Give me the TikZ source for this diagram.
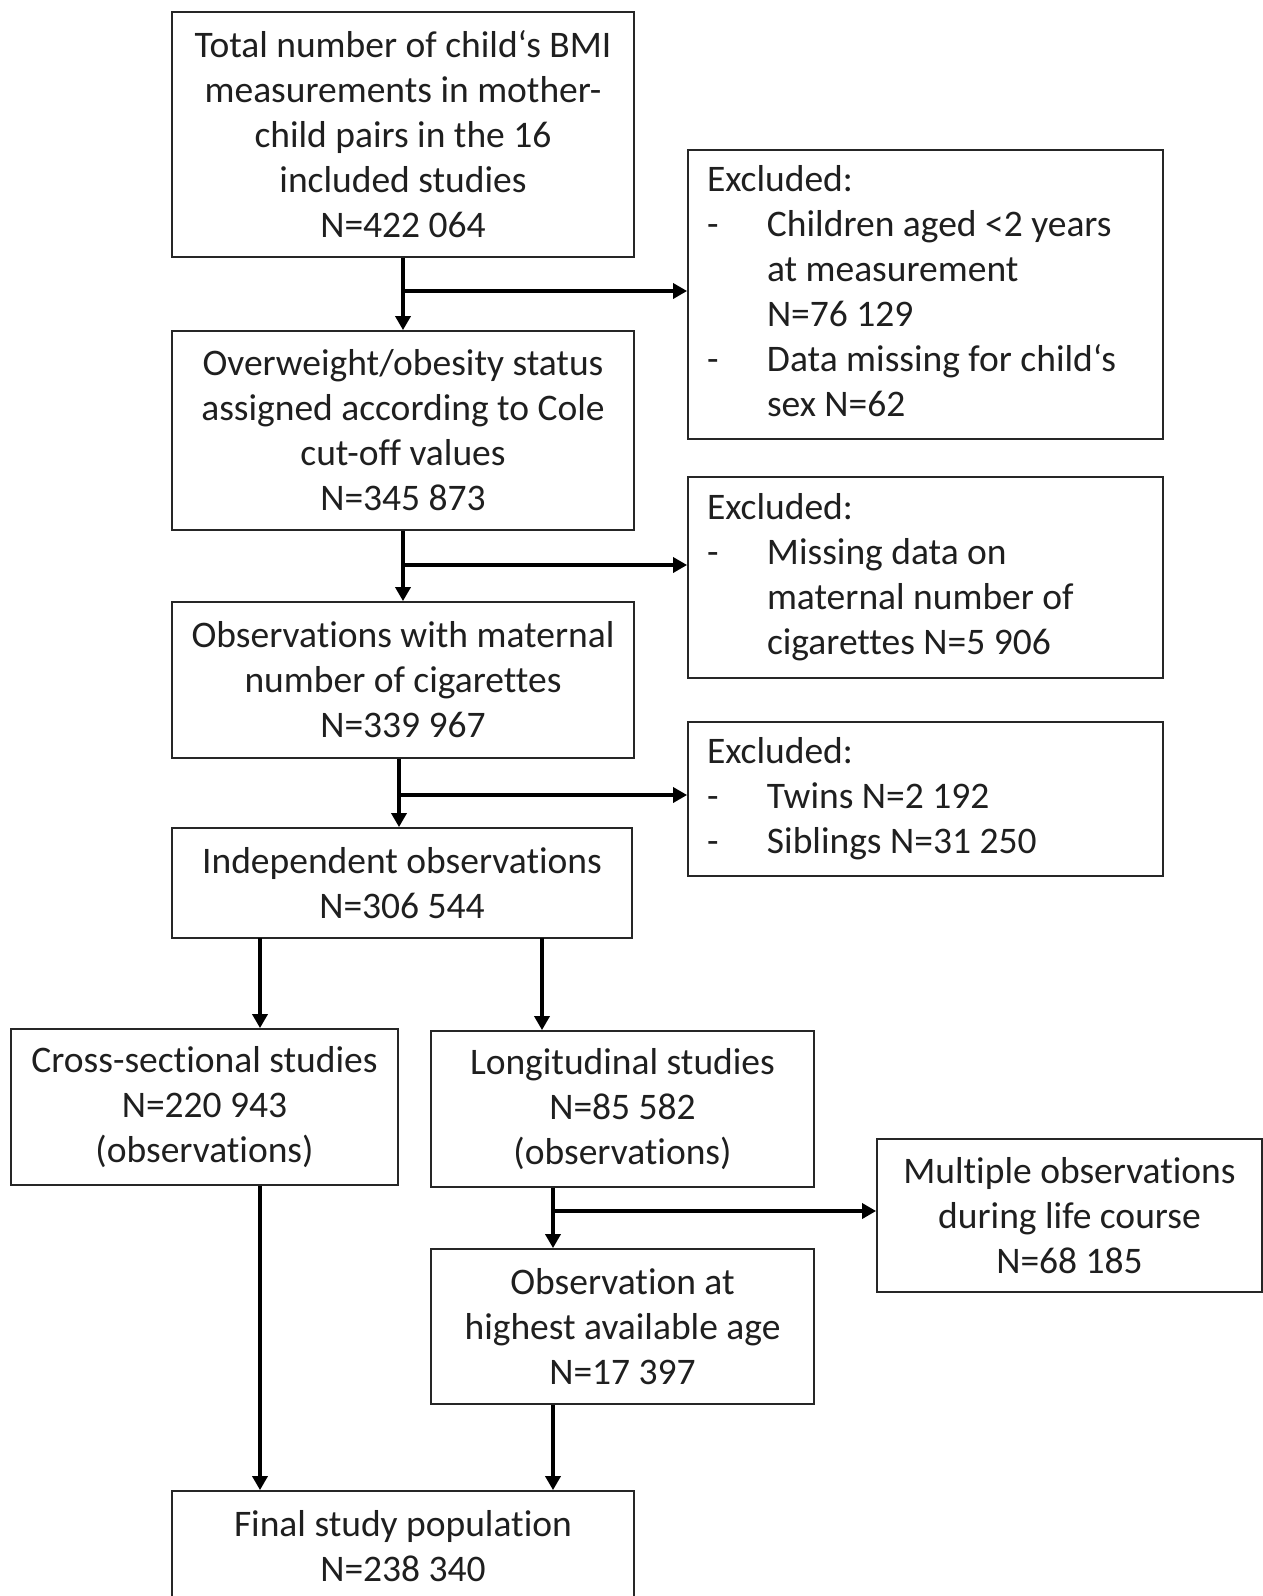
\documentclass[tikz,border=0pt]{standalone}
\usepackage{fontspec}
\setmainfont{Carlito}[Ligatures={NoCommon}]
\usetikzlibrary{arrows.meta}
\begin{document}
\begin{tikzpicture}[x=1pt,y=-1pt,
  box/.style={draw=black!85,line width=1.8pt,rectangle,inner sep=0pt,align=center,
    font=\fontsize{37.5}{45}\selectfont,text=black!88},
  exbox/.style={draw=black!85,line width=1.8pt,rectangle,inner xsep=19pt,inner ysep=0pt,
    font=\fontsize{37.5}{45}\selectfont,text=black!88},
  arr/.style={line width=3.4pt,-{Triangle[length=14pt,width=15pt]}}]
\useasboundingbox (0,0) rectangle (1263,1596);
\clip (0,0) rectangle (1263,1596);
\fill[white] (0,0) rectangle (1263,1596);
\newcommand{\dsh}{\makebox[60pt][l]{-}}
\newcommand{\ind}{\hspace*{60pt}}
\newcommand{\exlines}[1]{\makebox[437pt][l]{\begin{tabular}{@{}l@{}}#1\end{tabular}}}
\node[box,minimum width=462pt,minimum height=245pt] (b1) at (403,134.5)
 {Total number of child‘s BMI\\measurements in mother-\\child pairs in the 16\\included studies\\N=422 064};
\node[exbox,minimum width=475pt,minimum height=289pt] (e1) at (925.5,294.5)
 {\exlines{Excluded:\\\dsh Children aged <2 years\\\ind at measurement\\\ind N=76 129\\\dsh Data missing for child‘s\\\ind sex N=62}};
\node[box,minimum width=462pt,minimum height=199pt] (b2) at (403,430.5)
 {Overweight/obesity status\\assigned according to Cole\\cut-off values\\N=345 873};
\node[exbox,minimum width=475pt,minimum height=201pt] (e2) at (925.5,577.5)
 {\exlines{Excluded:\\\dsh Missing data on\\\ind maternal number of\\\ind cigarettes N=5 906}};
\node[box,minimum width=462pt,minimum height=156pt] (b3) at (403,680)
 {Observations with maternal\\number of cigarettes\\N=339 967};
\node[exbox,minimum width=475pt,minimum height=154pt] (e3) at (925.5,799)
 {\exlines{Excluded:\\\dsh Twins N=2 192\\\dsh Siblings N=31 250}};
\node[box,minimum width=460pt,minimum height=110pt] (b4) at (402,883)
 {Independent observations\\N=306 544};
\node[box,minimum width=387pt,minimum height=156pt] (cs) at (204.5,1107)
 {Cross-sectional studies\\N=220 943\\(observations)};
\node[box,minimum width=383pt,minimum height=156pt] (lg) at (622.5,1109)
 {Longitudinal studies\\N=85 582\\(observations)};
\node[box,minimum width=385pt,minimum height=153pt] (mo) at (1069.5,1215.5)
 {Multiple observations\\during life course\\N=68 185};
\node[box,minimum width=383pt,minimum height=155pt] (oh) at (622.5,1326.5)
 {Observation at\\highest available age\\N=17 397};
\node[box,minimum width=462pt,minimum height=110pt] (fp) at (403,1546)
 {Final study population\\N=238 340};
% connectors
\coordinate (j1) at (403,291);
\coordinate (j2) at (403,565);
\coordinate (j3) at (399,795);
\coordinate (j4) at (553,1211);
\draw[arr] (b1.south) -- (b2.north);
\draw[arr] (j1) -- (j1 -| e1.west);
\draw[arr] (b2.south) -- (b3.north);
\draw[arr] (j2) -- (j2 -| e2.west);
\draw[arr] (j3 |- b3.south) -- (j3 |- b4.north);
\draw[arr] (j3) -- (j3 -| e3.west);
\draw[arr] (260,938) coordinate (s1) -- (s1 |- cs.north);
\draw[arr] (542,938) coordinate (s2) -- (s2 |- lg.north);
\draw[arr] (j4 |- lg.south) -- (j4 |- oh.north);
\draw[arr] (j4) -- (j4 -| mo.west);
\draw[arr] (s1 |- cs.south) -- (s1 |- fp.north);
\draw[arr] (j4 |- oh.south) -- (j4 |- fp.north);
\end{tikzpicture}
\end{document}
